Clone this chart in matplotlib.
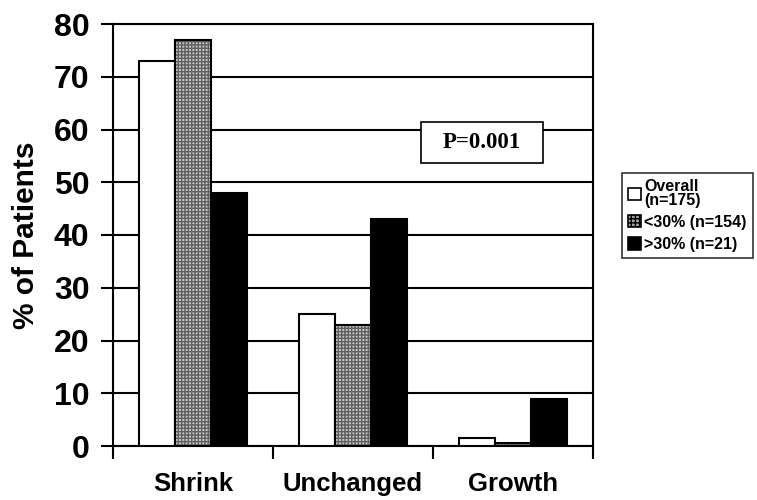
import numpy as np
import matplotlib.pyplot as plt
from matplotlib.patches import Patch, Rectangle

categories = ['Shrink', 'Unchanged', 'Growth']
series_names = ['Overall\n(n=175)', '<30% (n=154)', '>30% (n=21)']
overall = [73, 25, 1.5]
under30 = [77, 23, 0.5]
over30 = [48, 43, 9]
yticks = [0, 10, 20, 30, 40, 50, 60, 70, 80]

fig = plt.figure(figsize=(7.57, 5), dpi=100)
ax = fig.add_axes([0.1493, 0.108, 0.634, 0.844])

x = np.arange(len(categories))
w = 0.225

ax.bar(x - w, overall, w, color='white', edgecolor='black', linewidth=1.5, zorder=3)
# hatched middle series: pattern layer then outline layer
ax.bar(x, under30, w, color='#c8c8c8', edgecolor='#606060', hatch='+++++', linewidth=0, zorder=3)
ax.bar(x, under30, w, fill=False, edgecolor='black', linewidth=1.5, zorder=4)
ax.bar(x + w, over30, w, color='black', edgecolor='black', linewidth=1.5, zorder=3)

ax.set_xlim(-0.5, 2.5)
ax.set_ylim(0, 80)
ax.set_yticks(yticks)
ax.yaxis.grid(True, color='black', linewidth=1.5, zorder=0)
ax.set_axisbelow(True)

ax.set_xticks(x)
ax.set_xticklabels(categories, fontsize=18.5, fontweight='bold', family='Liberation Sans')
ax.set_xticks([-0.5, 0.5, 1.5, 2.5], minor=True)
ax.tick_params(axis='x', which='major', length=0, pad=19)
ax.tick_params(axis='x', which='minor', length=9, width=1.5, direction='out')
ax.tick_params(axis='y', length=9, width=1.5, direction='out', pad=8)
for lab in ax.get_yticklabels():
    lab.set_fontsize(23)
    lab.set_fontweight('bold')
    lab.set_family('Liberation Sans')
for s in ax.spines.values():
    s.set_linewidth(1.5)

ax.set_ylabel('% of Patients', fontsize=21.5, fontweight='bold', family='Liberation Sans', labelpad=10)

# p-value box
ax.add_patch(Rectangle((0.642, 0.671), 0.254, 0.097, transform=ax.transAxes,
                       facecolor='white', edgecolor='black', linewidth=1.2, zorder=5))
ax.text(0.769, 0.72, 'P=0.001', transform=ax.transAxes, ha='center', va='center',
        fontsize=16.5, fontweight='bold', family='Liberation Serif', zorder=6)

handles = [Patch(facecolor='white', edgecolor='black', linewidth=1.2),
           Patch(facecolor='#a0a0a0', edgecolor='black', hatch='++++', linewidth=1.2),
           Patch(facecolor='black', edgecolor='black', linewidth=1.2)]
leg = fig.legend(handles, series_names, loc='upper left', bbox_to_anchor=(0.8217, 0.654),
                 borderaxespad=0, frameon=True, fancybox=False, edgecolor='black',
                 handlelength=0.8, handleheight=0.8, handletextpad=0.2, borderpad=0.4,
                 labelspacing=0.45,
                 prop={'family': 'Liberation Sans', 'weight': 'bold', 'size': 11.5})
leg.get_frame().set_linewidth(1.2)
for t in leg.get_texts():
    t.set_linespacing(0.85)

fig.savefig('out.png', dpi=100)
